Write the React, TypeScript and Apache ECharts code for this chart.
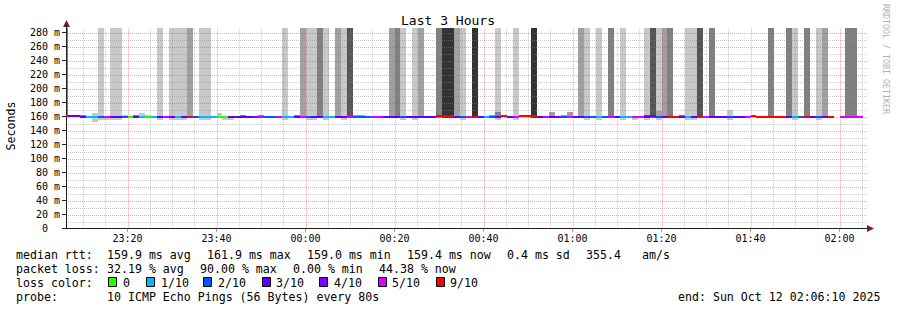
import React, { useEffect, useRef } from "react";
import * as echarts from "echarts";

const FONT = "'DejaVu Sans Mono', monospace";

// x axis unit: minutes after 23:00 (window 23:06:10 .. 02:06:10)
const START_MIN = 6 + 10 / 60;
const END_MIN = 186 + 10 / 60;
const STEP_MIN = 80 / 60; // 80 s RRD step
const FIRST_STEP = 4; // first (partial) step index after 23:00
const Y_MAX = 286.7;
const SMOKE_TOP = 300;

const xTickMinutes = [20, 40, 60, 80, 100, 120, 140, 160, 180];
const xTickLabels = ["23:20", "23:40", "00:00", "00:20", "00:40", "01:00", "01:20", "01:40", "02:00"];
const xMinorMinutes = [10, 15, 25, 30, 35, 45, 50, 55, 65, 70, 75, 85, 90, 95, 105, 110, 115, 125, 130, 135, 145, 150, 155, 165, 170, 175, 185];
const yTickValues = [0, 20, 40, 60, 80, 100, 120, 140, 160, 180, 200, 220, 240, 260, 280];
const yMinorValues = [10, 30, 50, 70, 90, 110, 130, 150, 170, 190, 210, 230, 250, 270];

const _ = null;
// median rtt (ms) per 80 s step, first entry = step 4
const medianRtt = [
  161, 160.8, 160.3, 159.2, 159.5, 159.5, 159.5, 159.5, 159.6, 159.6,
  159.3, 159.5, 160, 160, 160, 160, 159.5, 160, 159.3, 159.3,
  159.3, 160.2, 160, 159.5, 159.5, 159.5, 160, 160, 160, 160,
  160, 159.3, 159.2, 159.8, 160, 160, 160, 160, 160, 160,
  160, 160, 159.5, 159.3, 160, 160, 160, 160, 160, 160,
  160, 159.3, 159.3, 160, 160, 160, 160, 160, 160, 160,
  160, 160, 160, 160.3, 160.3, 160.3, 160, 160, 159.5, 159.3,
  159.5, 160, 160, 160, 160.5, 159.3, 159.5, 160.3, 160.3, 160.3,
  159.5, 159.5, 159.5, 159.2, 159.3, 160, 160, 160, 160, 159.5,
  160, 160, 160, 160, 160, 160, 159.5, 159.3, 160, 160.5,
  159.5, 159.5, 159.5, 159.5, 160, 159.5, 160, 161.5, 159.5, 160,
  159.5, 160, 160, 160, 160, 160, 160.3, 159.5, 160, 160,
  160, 159.5, 159.5, 160, 159.5, 159.3, 160, 160, 160, 160,
  _, 160, 160, 159.5, 159.5, _,
];
// lost pings out of 10 per step
const lossCount = [
  9, 3, 3, 3, 1, 1, 2, 5, 3, 3,
  2, 0, 3, 1, 0, 1, 3, 5, 3, 1,
  3, 9, 2, 1, 1, 1, 0, 0, 3, 3,
  3, 3, 4, 5, 2, 2, 5, 1, 1, 3,
  5, 2, 3, 3, 1, 1, 3, 3, 5, 2,
  2, 2, 5, 5, 3, 3, 3, 2, 3, 3,
  3, 3, 3, 9, 9, 9, 3, 2, 5, 9,
  3, 1, 2, 3, 9, 3, 5, 9, 9, 9,
  3, 5, 3, 4, 2, 5, 3, 3, 2, 2,
  1, 2, 5, 3, 1, 1, 5, 5, 3, 3,
  2, 3, 9, 9, 3, 1, 3, 9, 5, 3,
  3, 3, 2, 3, 3, 5, 9, 9, 9, 9,
  9, 9, 3, 1, 2, 9, 3, 2, 3, 9,
  _, 5, 5, 5, 5, _,
];
// tall smoke: [step, lowest ms, shade level]
const tallSmoke = [
  [4, 159, 3], [10, 155, 1], [12, 155, 1], [13, 155, 1], [20, 155, 1], [22, 155, 1], [23, 155, 1], [24, 155, 1],
  [25, 158, 2], [27, 155, 1], [28, 155, 1], [41, 155, 1], [44, 158, 2], [45, 155, 1], [46, 155, 1], [47, 158, 3],
  [48, 155, 1], [50, 158, 2], [51, 155, 1], [52, 158, 4], [59, 158, 2], [60, 158, 3], [61, 155, 1], [63, 155, 1],
  [64, 158, 2], [67, 158, 3], [68, 158, 5], [69, 158, 5], [70, 158, 2], [71, 155, 1], [73, 158, 5], [77, 155, 1],
  [80, 155, 1], [83, 158, 5], [91, 158, 2], [92, 155, 1], [94, 155, 1], [96, 158, 3], [98, 155, 1], [102, 155, 1],
  [103, 158, 4], [104, 155, 1], [105, 158, 2], [106, 158, 3], [109, 155, 1], [110, 155, 1], [111, 158, 4], [113, 158, 3],
  [123, 158, 3], [126, 158, 3], [127, 155, 1], [129, 158, 3], [131, 155, 1], [132, 158, 2], [136, 158, 3], [137, 158, 3],
];
// small smoke near the median: [step, low ms, high ms, shade level]
const innerSmoke = [
  [6, 160, 163, 3], [7, 160, 163, 3], [9, 153, 165, 1], [11, 155, 160, 1], [14, 159, 163, 1], [16, 160, 163, 3],
  [17, 160, 165, 1], [18, 160, 163, 1], [26, 157.5, 160, 2], [30, 160, 165, 1], [31, 155, 160, 1], [32, 155, 160, 1],
  [34, 160, 163, 3], [37, 160, 162, 3], [43, 160, 162, 3], [53, 160, 163, 2], [54, 160, 163, 2], [76, 160, 163, 2],
  [77, 160, 166, 3], [86, 160, 166, 2], [88, 160, 162, 2], [89, 160, 167, 2], [92, 155, 160, 1], [100, 155, 160, 1],
  [102, 160, 163, 4], [104, 160, 168, 2], [108, 160, 163, 3], [116, 155, 169, 1], [120, 160, 162, 4],
];

const GRAYS = ["#ffffff", "#c8c8c8", "#a0a0a0", "#808080", "#555555", "#333333"];
const LOSS_COLORS: Record<number, string> = {
  0: "#26ff00", 1: "#00b8ff", 2: "#0059ff", 3: "#5e00ff", 4: "#7e00ff", 5: "#dd00ff", 9: "#ff0000",
};
const MAJOR_GRID = "rgba(222,79,79,0.5)";
const MINOR_GRID = "rgba(143,143,143,0.45)";

const legendKeys = [0, 1, 2, 3, 4, 5, 9];
const legendKeyLabels = ["0", "1/10", "2/10", "3/10", "4/10", "5/10", "9/10"];
const legendBoxX = [108, 146, 203, 262, 319, 378, 436];
const legendLabelX = [123, 161, 218, 276, 334, 392, 450];

const rttRow: [string, number][] = [
  ["median rtt:", 16], ["159.9 ms avg", 107], ["161.9 ms max", 207], ["159.0 ms min", 307],
  ["159.4 ms now", 407], ["0.4 ms sd", 507], ["355.4", 586], ["am/s", 642],
];
const lossRow: [string, number][] = [
  ["packet loss:", 16], ["32.19 % avg", 107], ["90.00 % max", 200], ["0.00 % min", 293], ["44.38 % now", 379],
];
const probeRow: [string, number][] = [
  ["probe:", 16], ["10 ICMP Echo Pings (56 Bytes) every 80s", 107], ["end: Sun Oct 12 02:06:10 2025", 678],
];

function stepSpan(step: number): [number, number] {
  return [Math.max(START_MIN, step * STEP_MIN), Math.min(END_MIN, (step + 1) * STEP_MIN)];
}

function rectRender(params: any, api: any) {
  const x0 = api.value(0);
  const x1 = api.value(1);
  const lo = api.value(2);
  const hi = Math.min(api.value(3), Y_MAX);
  const a = api.coord([x0, hi]);
  const b = api.coord([x1, lo]);
  const left = Math.round(a[0]);
  const right = Math.round(b[0]);
  const top = Math.round(a[1]);
  const bottom = Math.round(b[1]);
  return {
    type: "rect",
    shape: { x: left, y: top, width: right - left, height: bottom - top },
    style: { fill: GRAYS[api.value(4)] },
  };
}

function medianRender(params: any, api: any) {
  const x0 = api.value(0);
  const x1 = api.value(1);
  const m = api.value(2);
  const a = api.coord([x0, m]);
  const b = api.coord([x1, m]);
  const left = Math.round(a[0]);
  const right = Math.round(b[0]);
  return {
    type: "rect",
    shape: { x: left, y: Math.round(a[1]) - 1, width: right - left, height: 2 },
    style: { fill: LOSS_COLORS[api.value(3)] },
  };
}

function vGridRender(color: string) {
  return (params: any, api: any) => {
    const v = api.value(0);
    const p0 = api.coord([v, 0]);
    const p1 = api.coord([v, Y_MAX]);
    const x = Math.round(p0[0]) + 0.5;
    return {
      type: "line",
      shape: { x1: x, y1: p0[1], x2: x, y2: p1[1] },
      style: { stroke: color, lineWidth: 1, lineDash: [1, 1] },
    };
  };
}

function hGridRender(color: string) {
  return (params: any, api: any) => {
    const v = api.value(1);
    const p0 = api.coord([START_MIN, v]);
    const p1 = api.coord([END_MIN, v]);
    const y = Math.round(p0[1]) + 0.5;
    return {
      type: "line",
      shape: { x1: p0[0], y1: y, x2: p1[0], y2: y },
      style: { stroke: color, lineWidth: 1, lineDash: [1, 1] },
    };
  };
}

function textEl(text: string, x: number, y: number, extra: any = {}) {
  return {
    type: "text",
    x,
    y,
    silent: true,
    style: {
      text,
      fill: "#000",
      font: `11.6px ${FONT}`,
      textAlign: "left",
      textVerticalAlign: "middle",
      ...extra,
    },
  };
}

export default function App() {
  const ref = useRef<HTMLDivElement>(null);

  useEffect(() => {
    if (!ref.current) return;
    const chart = echarts.init(ref.current, undefined, { renderer: "svg" });

    const tallData = tallSmoke.map(([step, lo, shade]) => {
      const [a, b] = stepSpan(step);
      return [a, b, lo, SMOKE_TOP, shade];
    });
    const innerData = innerSmoke.map(([step, lo, hi, shade]) => {
      const [a, b] = stepSpan(step);
      return [a, b, lo, hi, shade];
    });
    const medianData: number[][] = [];
    medianRtt.forEach((m, i) => {
      if (m == null) return;
      const [a, b] = stepSpan(FIRST_STEP + i);
      medianData.push([a, b, m, lossCount[i] as number]);
    });

    const graphics: any[] = [];
    graphics.push(textEl("Last 3 Hours", 448, 20, { font: `13px ${FONT}`, textAlign: "center" }));
    graphics.push({
      type: "text", x: 11, y: 126, rotation: Math.PI / 2, silent: true,
      style: { text: "Seconds", fill: "#000", font: `11.6px ${FONT}`, textAlign: "center", textVerticalAlign: "middle" },
    });
    graphics.push({
      type: "text", x: 886, y: 59, rotation: -Math.PI / 2, silent: true,
      style: { text: "RRDTOOL / TOBI OETIKER", fill: "#b0b0b0", font: `8.3px ${FONT}`, textAlign: "center", textVerticalAlign: "middle" },
    });
    rttRow.forEach(([t, x]) => graphics.push(textEl(t, x, 254.5)));
    lossRow.forEach(([t, x]) => graphics.push(textEl(t, x, 268.5)));
    graphics.push(textEl("loss color:", 16, 282.5));
    legendKeys.forEach((k, i) => {
      graphics.push({
        type: "rect", silent: true,
        shape: { x: legendBoxX[i] + 0.5, y: 277.5, width: 8, height: 9 },
        style: { fill: LOSS_COLORS[k], stroke: "#000", lineWidth: 1 },
      });
      graphics.push(textEl(legendKeyLabels[i], legendLabelX[i], 282.5));
    });
    probeRow.forEach(([t, x]) => graphics.push(textEl(t, x, 296.5)));
    graphics.push({
      type: "polygon", silent: true,
      shape: { points: [[63, 27], [70, 27], [66.5, 20]] },
      style: { fill: "#801f1f" },
    });
    graphics.push({
      type: "polygon", silent: true,
      shape: { points: [[867, 225], [867, 232], [874, 228.5]] },
      style: { fill: "#801f1f" },
    });
    graphics.push({
      type: "line", silent: true,
      shape: { x1: 66.5, y1: 28, x2: 66.5, y2: 24 },
      style: { stroke: "#1f1f1f", lineWidth: 1 },
    });

    chart.setOption({
      animation: false,
      backgroundColor: "#ffffff",
      grid: { left: 66, top: 28, width: 801, height: 200.7, containLabel: false },
      xAxis: {
        type: "value", min: START_MIN, max: END_MIN, position: "bottom", z: 6,
        axisLine: { show: true, lineStyle: { color: "#1f1f1f", width: 1 } },
        axisTick: { show: true, customValues: xTickMinutes, length: 3, lineStyle: { color: "rgba(222,79,79,0.8)" } },
        axisLabel: {
          show: true, customValues: xTickMinutes, margin: 5,
          fontFamily: FONT, fontSize: 10, color: "#000",
          formatter: (v: number) => {
            const idx = xTickMinutes.findIndex((t) => Math.abs(t - v) < 1e-6);
            return idx >= 0 ? xTickLabels[idx] : "";
          },
        },
        splitLine: { show: false },
      },
      yAxis: {
        type: "value", min: 0, max: Y_MAX, position: "left", z: 6,
        axisLine: { show: true, lineStyle: { color: "#1f1f1f", width: 1 } },
        axisTick: { show: true, customValues: yTickValues, length: 4, lineStyle: { color: "#1f1f1f" } },
        axisLabel: {
          show: true, customValues: yTickValues, margin: 6,
          fontFamily: FONT, fontSize: 10, color: "#000",
          formatter: (v: number) => (v === 0 ? "{z|0}" : `${v} m`),
          rich: { z: { fontFamily: FONT, fontSize: 10, color: "#000", padding: [0, 12, 0, 0] } },
        },
        splitLine: { show: false },
      },
      series: [
        {
          type: "custom", name: "smoke", z: 2,
          renderItem: rectRender, encode: { x: [0, 1], y: [2, 3] }, data: tallData,
        },
        {
          type: "custom", name: "smoke-inner", z: 3,
          renderItem: rectRender, encode: { x: [0, 1], y: [2, 3] }, data: innerData,
        },
        {
          type: "custom", name: "minor grid x", z: 4, silent: true,
          renderItem: vGridRender(MINOR_GRID), encode: { x: 0, y: 1 },
          data: xMinorMinutes.map((v) => [v, 0]),
        },
        {
          type: "custom", name: "minor grid y", z: 4, silent: true,
          renderItem: hGridRender(MINOR_GRID), encode: { x: 0, y: 1 },
          data: yMinorValues.map((v) => [START_MIN, v]),
        },
        {
          type: "custom", name: "major grid x", z: 5, silent: true,
          renderItem: vGridRender(MAJOR_GRID), encode: { x: 0, y: 1 },
          data: xTickMinutes.map((v) => [v, 0]),
        },
        {
          type: "custom", name: "major grid y", z: 5, silent: true,
          renderItem: hGridRender(MAJOR_GRID), encode: { x: 0, y: 1 },
          data: yTickValues.filter((v) => v > 0).map((v) => [START_MIN, v]),
        },
        {
          type: "custom", name: "median rtt", z: 10,
          renderItem: medianRender, encode: { x: [0, 1], y: 2 }, data: medianData,
        },
      ],
      graphic: graphics,
    });

    return () => chart.dispose();
  }, []);

  return (
    <div
      ref={ref}
      style={{ position: "fixed", left: 0, top: 0, width: 897, height: 310, background: "#fff" }}
    />
  );
}
